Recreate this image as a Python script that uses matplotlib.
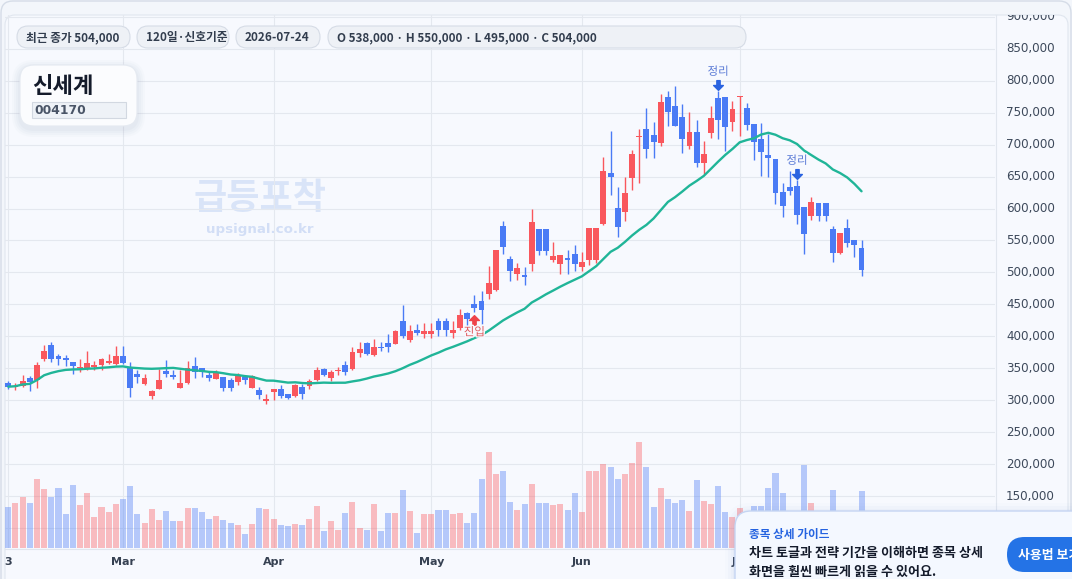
import numpy as np
import pandas as pd
import matplotlib
matplotlib.use("Agg")
import matplotlib.pyplot as plt
from matplotlib.patches import FancyBboxPatch, Rectangle
from matplotlib.path import Path
import matplotlib.transforms as mtrans
import matplotlib.patheffects as pe

plt.rcParams['font.family'] = ['Noto Sans CJK KR', 'DejaVu Sans']

W, H, DPI = 1072, 579, 100

# ---------------- data (prices in thousand KRW, volume in thousand shares) ----------------
opens = [327.5, 320.7, 322.8, 334.8, 331.6, 365.0, 386.4, 369.2, 366.1, 359.8,
         350.4, 350.4, 351.5, 355.6, 358.3, 356.7, 369.2, 350.9, 341.6, 325.4,
         307.1, 318.1, 345.7, 339.5, 319.6, 327.5, 353.6, 350.4, 339.5, 333.7,
         336.3, 331.6, 328.5, 336.3, 319.1, 316.0, 299.3, 312.9, 317.6, 309.7,
         306.6, 320.7, 322.3, 331.6, 348.9, 334.8, 345.7, 355.1, 348.9, 374.5,
         389.1, 371.3, 383.8, 389.1, 388.6, 424.0, 394.8, 409.9, 404.2, 404.2,
         424.0, 424.0, 405.8, 413.1, 436.5, 450.6, 455.3, 466.3, 472.5, 572.7,
         521.1, 498.1, 496.0, 513.8, 568.0, 568.0, 519.5, 513.8, 522.6, 528.9,
         509.1, 519.5, 519.5, 575.8, 655.6, 600.9, 594.6, 647.8, 712.0, 724.5,
         715.1, 702.6, 774.6, 760.5, 743.3, 697.9, 719.8, 671.3, 718.2, 773.0,
         774.6, 735.5, 774.1, 757.4, 732.3, 708.9, 683.8, 677.6, 625.9, 633.7,
         635.3, 602.4, 588.3, 608.7, 608.7, 568.0, 530.4, 569.6, 550.8, 538.0]
highs = [330.1, 326.4, 339.5, 337.9, 359.3, 386.4, 390.6, 372.3, 370.8, 360.5,
         364.5, 377.0, 361.4, 366.1, 372.3, 384.9, 384.9, 359.8, 347.3, 341.0,
         316.0, 348.9, 362.9, 347.3, 347.3, 361.4, 367.6, 351.0, 344.2, 347.3,
         336.8, 334.8, 342.6, 339.5, 339.5, 320.7, 309.7, 317.6, 323.8, 309.7,
         325.4, 325.4, 333.2, 352.0, 350.4, 347.3, 352.0, 361.4, 383.3, 391.7,
         391.7, 395.8, 390.6, 403.7, 409.9, 449.1, 417.8, 419.3, 420.9, 420.9,
         428.7, 428.7, 424.0, 442.8, 438.1, 464.7, 471.5, 510.1, 535.1, 580.5,
         525.8, 514.8, 509.1, 599.3, 568.0, 568.0, 547.7, 527.3, 535.1, 542.9,
         532.0, 569.6, 569.6, 680.7, 721.4, 633.7, 649.4, 691.6, 724.5, 757.4,
         735.5, 779.3, 784.0, 791.8, 763.6, 751.1, 738.6, 705.7, 760.5, 784.0,
         774.6, 768.3, 776.2, 765.2, 732.3, 733.9, 716.7, 677.6, 640.0, 658.8,
         644.7, 602.4, 618.1, 608.7, 608.7, 572.7, 561.7, 583.6, 550.8, 550.0]
lows = [318.1, 316.5, 321.2, 314.4, 319.6, 361.9, 359.8, 354.6, 354.1, 341.6,
        344.7, 346.8, 346.8, 347.3, 356.7, 355.6, 356.7, 305.6, 327.5, 323.8,
        302.4, 318.1, 336.3, 333.2, 319.6, 325.9, 334.8, 336.3, 330.1, 333.7,
        314.4, 314.4, 323.8, 325.4, 319.1, 301.9, 294.6, 300.3, 303.5, 301.9,
        305.0, 301.9, 317.6, 330.1, 337.9, 330.1, 339.5, 339.5, 347.3, 368.2,
        370.8, 369.8, 377.6, 376.0, 388.6, 397.9, 391.7, 402.6, 397.9, 397.9,
        401.1, 401.1, 397.9, 409.9, 411.5, 438.1, 419.3, 458.5, 471.0, 529.4,
        487.1, 488.7, 480.9, 502.8, 527.8, 527.8, 516.4, 498.1, 498.1, 502.8,
        502.8, 511.1, 514.3, 574.3, 621.2, 555.5, 580.5, 629.0, 640.0, 679.1,
        679.1, 697.9, 729.2, 729.2, 686.9, 693.2, 665.0, 654.1, 710.4, 708.9,
        690.1, 721.4, 713.5, 722.9, 676.0, 650.9, 649.4, 607.1, 586.8, 621.2,
        575.8, 528.9, 582.1, 580.5, 580.5, 516.4, 528.9, 539.8, 524.7, 495.0]
closes = [321.2, 322.8, 330.1, 328.5, 355.1, 377.0, 365.0, 365.0, 363.0, 354.1,
          352.0, 358.3, 355.1, 364.5, 361.4, 369.2, 358.3, 319.6, 336.3, 334.8,
          314.4, 331.6, 341.6, 336.3, 327.0, 350.4, 344.2, 344.2, 334.8, 344.2,
          319.1, 319.1, 337.9, 331.6, 337.9, 308.2, 301.9, 317.6, 306.6, 303.5,
          323.8, 309.7, 330.1, 347.3, 339.5, 344.2, 347.3, 344.2, 375.5, 380.2,
          372.4, 383.3, 382.3, 383.8, 408.4, 400.5, 408.4, 405.8, 408.4, 408.4,
          410.4, 410.4, 409.9, 433.4, 427.2, 444.4, 441.2, 483.5, 535.1, 540.4,
          502.8, 507.0, 493.4, 579.0, 534.1, 534.1, 525.8, 527.3, 520.0, 513.8,
          516.4, 569.6, 569.6, 658.8, 649.4, 571.1, 624.3, 685.4, 713.5, 693.2,
          704.2, 766.8, 751.1, 729.2, 708.9, 719.8, 671.3, 685.4, 741.7, 738.6,
          727.6, 755.8, 776.2, 730.8, 704.2, 688.5, 679.1, 624.3, 604.0, 627.5,
          589.9, 560.2, 610.3, 588.3, 588.3, 530.4, 561.7, 546.1, 543.0, 504.0]
volumes = [83, 91, 103, 91, 139, 119, 103, 121, 69, 127,
           87, 111, 63, 83, 73, 89, 99, 125, 69, 51,
           79, 57, 75, 55, 55, 81, 81, 73, 59, 65,
           57, 51, 47, 29, 49, 81, 79, 59, 47, 45,
           49, 47, 59, 85, 35, 55, 37, 71, 92, 40,
           37, 89, 35, 71, 71, 117, 75, 31, 69, 69,
           77, 77, 69, 71, 51, 71, 139, 193, 149, 155,
           93, 77, 89, 129, 91, 91, 87, 88, 76, 110,
           72, 154, 154, 168, 162, 138, 148, 170, 212, 162,
           83, 121, 99, 91, 97, 75, 137, 95, 89, 125,
           73, 63, 81, 60, 85, 85, 121, 151, 111, 52,
           66, 167, 91, 48, 44, 117, 60, 56, 44, 115]

month_ticks = [0, 16, 37, 59, 80, 102]
month_labels = ['3', 'Mar', 'Apr', 'May', 'Jun', 'Jul']
price_ticks = list(range(100000, 900001, 50000))
entry_idx = [65]
exit_idx = [99, 110]
ma_window = 20
stock_name = '신세계'
stock_code = '004170'
badges = ['최근 종가 504,000', '120일·신호기준', '2026-07-24',
          'O 538,000 · H 550,000 · L 495,000 · C 504,000']

# ---------------- prep ----------------
o = np.array(opens) * 1000
h = np.array(highs) * 1000
l = np.array(lows) * 1000
c = np.array(closes) * 1000
v = np.array(volumes) * 1000
x = np.arange(len(o))
up = c >= o
ma = pd.Series(c).rolling(ma_window, min_periods=1).mean().values

UP = '#f9575d'
DN = '#4a7bf5'
cols = np.where(up, UP, DN)
vcols = [(0.98, 0.34, 0.36, 0.38) if u else (0.29, 0.48, 0.96, 0.38) for u in up]

fig = plt.figure(figsize=(W / DPI, H / DPI), dpi=DPI)
fig.patch.set_facecolor('#f3f6fb')


def px_axes(x0, y0, x1, y1, z):
    a = fig.add_axes([x0 / W, 1 - y1 / H, (x1 - x0) / W, (y1 - y0) / H])
    a.set_zorder(z)
    return a


# background panels
bg = px_axes(0, 0, W, H, 0)
bg.set_xlim(0, W); bg.set_ylim(H, 0); bg.axis('off')
bg.add_patch(FancyBboxPatch((1, 1), W - 2, H + 30, boxstyle='round,pad=0,rounding_size=12',
                            fc='#f3f6fb', ec='#d5dce7', lw=1.0))
bg.add_patch(FancyBboxPatch((5, 15), 1063, H + 30, boxstyle='round,pad=0,rounding_size=10',
                            fc='#f7f9fe', ec='#e0e6ef', lw=0.8))
bg.plot([995.5, 995.5], [15, H], color='#e1e6ee', lw=0.8)
bg.plot([5, 995], [548.8, 548.8], color='#e1e6ee', lw=0.8)
bg.text(260, 198, '급등포착', fontsize=26, fontweight='bold', color='#d9e4f8',
        ha='center', va='center')
bg.text(260, 229, 'upsignal.co.kr', fontsize=9.6, fontweight='bold', color='#d2def6',
        ha='center', va='center', family='DejaVu Sans')

# main price axes
PX0, PY0, PX1, PY1 = 5, 15, 995, 548.3
STEP = 7.17
ax = px_axes(PX0, PY0, PX1, PY1, 1)
ax.set_facecolor('none')
XMIN = (PX0 - 8.3) / STEP
XMAX = XMIN + (PX1 - PX0) / STEP
YMIN, YMAX = 68300, 902900
ax.set_xlim(XMIN, XMAX)
ax.set_ylim(YMIN, YMAX)
for s in ax.spines.values():
    s.set_visible(False)
ax.set_xticks([]); ax.set_yticks([])
for p in price_ticks:
    ax.axhline(p, color='#e4e8ef', lw=0.8, zorder=0)
for t in month_ticks:
    ax.axvline(t, color='#e4e8ef', lw=0.8, zorder=0)

ax.vlines(x, l, h, colors=cols, lw=1.0, zorder=2)
ax.bar(x, np.maximum(np.abs(c - o), 1500), bottom=np.minimum(o, c), width=0.82,
       color=cols, zorder=3, linewidth=0)
ax.plot(x, ma, color='#20b598', lw=1.7, zorder=4, solid_capstyle='round')

# x labels
btr = mtrans.blended_transform_factory(ax.transData, ax.transAxes)
for t, lab in zip(month_ticks, month_labels):
    ax.text(t, -(562 - PY1) / (PY1 - PY0), lab, transform=btr, ha='center', va='center',
            fontsize=8, fontweight='bold', color='#364152', family='DejaVu Sans', clip_on=False)

# markers
arrow_up = Path([(-0.5, 0.0), (0.0, 0.5), (0.5, 0.0), (0.17, 0.0), (0.17, -0.5),
                 (-0.17, -0.5), (-0.17, 0.0), (-0.5, 0.0)],
                [Path.MOVETO] + [Path.LINETO] * 6 + [Path.CLOSEPOLY])
arrow_dn = Path([(px, -py) for px, py in arrow_up.vertices], arrow_up.codes)
halo = [pe.withStroke(linewidth=2.0, foreground='#f7f9fe')]
for i in entry_idx:
    tr = ax.transData + mtrans.ScaledTranslation(0, -7.5 / DPI, fig.dpi_scale_trans)
    ax.plot([i], [l[i]], marker=arrow_up, markersize=7, color='#ee4349', transform=tr,
            zorder=6, linestyle='none')
    tr2 = ax.transData + mtrans.ScaledTranslation(0, -20 / DPI, fig.dpi_scale_trans)
    ax.text(i, l[i], '진입', transform=tr2, ha='center', va='center', fontsize=8.3,
            color='#e0585c', zorder=6, path_effects=halo)
for i in exit_idx:
    tr = ax.transData + mtrans.ScaledTranslation(0, 6 / DPI, fig.dpi_scale_trans)
    ax.plot([i], [h[i]], marker=arrow_dn, markersize=7, color='#2a63e0', transform=tr,
            zorder=6, linestyle='none')
    tr2 = ax.transData + mtrans.ScaledTranslation(0, 19.5 / DPI, fig.dpi_scale_trans)
    ax.text(i, h[i], '정리', transform=tr2, ha='center', va='center', fontsize=8.3,
            color='#5a7ad6', zorder=6, path_effects=halo)

# volume axes
axv = px_axes(PX0, PY0, PX1, PY1, 2)
axv.set_facecolor('none')
axv.set_xlim(XMIN, XMAX)
axv.set_ylim(0, 2 * (PY1 - PY0) * 1000)
axv.axis('off')
axv.bar(x, v, width=0.84, color=vcols, linewidth=0)

# price scale
sc = px_axes(995.5, 15, 1068, PY1, 3)
sc.set_xlim(0, 72.5); sc.set_ylim(YMIN, YMAX); sc.axis('off')
for p in price_ticks:
    sc.text(10.5, p, f'{p:,}', fontsize=8.6, color='#3d495b', ha='left', va='center',
            family='DejaVu Sans', clip_on=True)

# foreground overlays
fg = px_axes(0, 0, W, H, 5)
fg.set_xlim(0, W); fg.set_ylim(H, 0); fg.axis('off')

badge_x = [(17, 130), (137, 229), (236, 320), (328, 746)]
for (bx0, bx1), txt in zip(badge_x, badges):
    fg.add_patch(FancyBboxPatch((bx0, 26), bx1 - bx0, 22, boxstyle='round,pad=0,rounding_size=11',
                                fc='#eef1f6', ec='#d6dce6', lw=0.8))
    fg.text(bx0 + 9, 37.5, txt, fontsize=8.45, fontweight='bold', color='#323d4e',
            ha='left', va='center')

# title card with soft shadow
for k, a in [(8, 0.025), (6, 0.03), (4, 0.035), (2, 0.04)]:
    fg.add_patch(FancyBboxPatch((20 - k, 65 - k + 3), 117 + 2 * k, 61 + 2 * k,
                                boxstyle=f'round,pad=0,rounding_size={14 + k}',
                                fc=(0.45, 0.52, 0.65, a), ec='none'))
fg.add_patch(FancyBboxPatch((20, 65), 117, 61, boxstyle='round,pad=0,rounding_size=14',
                            fc='#fbfcfe', ec='#e5eaf1', lw=0.8))
fg.text(32, 86.5, stock_name, fontsize=16, fontweight='bold', color='#141b2b',
        ha='left', va='center')
fg.add_patch(Rectangle((32, 102), 94, 15.5, fc='#eef2f7', ec='#d2d8e1', lw=0.8))
fg.text(34, 110, stock_code, fontsize=8.9, fontweight='bold', color='#4a5567',
        ha='left', va='center', family='DejaVu Sans')

# guide box
for k, a in [(10, 0.02), (7, 0.03), (4, 0.04), (2, 0.05)]:
    fg.add_patch(FancyBboxPatch((735 - k, 511 - k + 2), 400, 120,
                                boxstyle=f'round,pad=0,rounding_size={16 + k}',
                                fc=(0.45, 0.58, 0.85, a), ec='none'))
fg.add_patch(FancyBboxPatch((735, 511), 400, 120, boxstyle='round,pad=0,rounding_size=16',
                            fc='#f4f8ff', ec='#c5d5f3', lw=1.0))
fg.text(749, 534, '종목 상세 가이드', fontsize=8.4, fontweight='bold', color='#2563e0',
        ha='left', va='center')
fg.text(749, 553, '차트 토글과 전략 기간을 이해하면 종목 상세', fontsize=9.4, fontweight='bold',
        color='#141b2b', ha='left', va='center')
fg.text(749, 572, '화면을 훨씬 빠르게 읽을 수 있어요.', fontsize=9.4, fontweight='bold',
        color='#141b2b', ha='left', va='center')
fg.add_patch(FancyBboxPatch((1007, 537), 130, 35, boxstyle='round,pad=0,rounding_size=17.5',
                            fc='#2473e6', ec='none'))
fg.text(1018, 554.5, '사용법 보기', fontsize=9.3, fontweight='bold', color='white',
        ha='left', va='center')

fig.savefig('out.png', dpi=DPI, facecolor=fig.get_facecolor())
